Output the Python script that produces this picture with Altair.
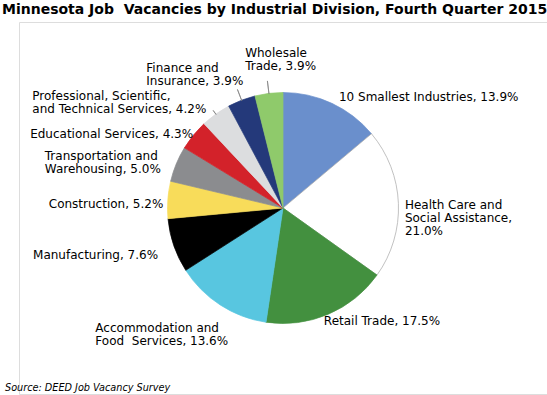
import altair as alt
import pandas as pd

# ---- data ----
names = [
    "10 Smallest Industries",
    "Health Care and\nSocial Assistance",
    "Retail Trade",
    "Accommodation and\nFood\u00a0 Services",
    "Manufacturing",
    "Construction",
    "Transportation and\nWarehousing",
    "Educational Services",
    "Professional, Scientific,\nand Technical Services",
    "Finance and\nInsurance",
    "Wholesale\nTrade",
]
shares = [13.9, 21.0, 17.5, 13.6, 7.6, 5.2, 5.0, 4.3, 4.2, 3.9, 3.9]
value_on_own_line = [False, True, False, False, False, False, False, False, False, False, False]

# ---- styles ----
fills = ["#6a8fcc", "#ffffff", "#43903f", "#58c6e0", "#000000", "#f8dc5a",
         "#8b8c8f", "#d3222a", "#dcdddf", "#24397a", "#8fca6b"]
strokes = fills.copy()
strokes[1] = "#a6a6a6"

FONT = "DejaVu Sans"
W, H = 547, 395
CX_PAGE, CY_PAGE = 283, 208
PAD_TOP = 22
PAD_LEFT = 2 * CX_PAGE - W          # 19
PLOT_W = W - PAD_LEFT
PLOT_H = 2 * (CY_PAGE - PAD_TOP)
PAD_BOTTOM = H - PAD_TOP - PLOT_H
R_PIE = 115.5
R_LABEL = 130

# per-label (align, dx, dy) offsets of the first line from the label anchor at R_LABEL
label_style = [
    ("left", 1, 7),
    ("left", -8, 2),
    ("left", -10, -7),
    ("left", -117, 11),
    ("right", -2, 5),
    ("right", 10, 5),
    ("left", -118, -2),
    ("right", 11, 8),
    ("left", -175, -6),
    ("left", -90, -19),
    ("left", -22, -25.5),
]
# leader lines: (slice index, outer radius of the line)
leaders = [(8, 120), (9, 127), (10, 128)]

labels = [
    f"{n}{',' + chr(10) if nl else ', '}{v:.1f}%"
    for n, v, nl in zip(names, shares, value_on_own_line)
]

df = pd.DataFrame({
    "category": names,
    "value": shares,
    "order": list(range(len(names))),
    "label": labels,
})

base = alt.Chart(df)

pie = base.mark_arc(outerRadius=R_PIE, strokeWidth=0.7).encode(
    theta=alt.Theta("value:Q", stack=True),
    order=alt.Order("order:Q", sort="ascending"),
    color=alt.Color("category:N", scale=alt.Scale(domain=names, range=fills), legend=None),
    stroke=alt.Stroke("category:N", scale=alt.Scale(domain=names, range=strokes), legend=None),
)

label_base = base.transform_joinaggregate(
    total="sum(value)"
).transform_window(
    cum="sum(value)", sort=[alt.SortField("order", order="ascending")], frame=[None, 0]
).transform_calculate(
    mid="(datum.cum - datum.value / 2) / datum.total",
    mid2="(datum.cum - datum.value / 2) / datum.total + 0.0001",
)

theta_mid = alt.Theta("mid:Q", scale=alt.Scale(domain=[0, 1], range=[0, 6.283185307179586]))

text_layers = []
for i, (align, dx, dy) in enumerate(label_style):
    t = label_base.transform_filter(
        alt.datum.order == i
    ).mark_text(
        radius=R_LABEL, align=align, baseline="middle", dx=dx, dy=dy,
        font=FONT, fontSize=12, lineHeight=13, lineBreak="\n", color="#000000",
    ).encode(theta=theta_mid, text="label:N")
    text_layers.append(t)

for i, r_out in leaders:
    ln = label_base.transform_filter(
        alt.datum.order == i
    ).mark_arc(
        innerRadius=R_PIE - 0.5, outerRadius=r_out, stroke="#808080", strokeWidth=0.7, fill="#808080",
    ).encode(theta=theta_mid, theta2="mid2:Q")
    text_layers.append(ln)

labels_layer = alt.layer(*text_layers)

source = alt.Chart(pd.DataFrame({"t": ["Source: DEED Job Vacancy Survey"]})).mark_text(
    align="left", baseline="alphabetic", font=FONT, fontSize=9.7, fontStyle="italic", color="#000000"
).encode(text="t:N", x=alt.value(5 - PAD_LEFT), y=alt.value(391 - PAD_TOP))

chart = alt.layer(pie, labels_layer, source).resolve_scale(
    theta="independent"
).properties(
    width=PLOT_W,
    height=PLOT_H,
    padding={"left": PAD_LEFT, "top": PAD_TOP, "right": 0, "bottom": PAD_BOTTOM},
    autosize=alt.AutoSizeParams(type="none"),
    title=alt.TitleParams(
        "Minnesota Job\u00a0 Vacancies by Industrial Division, Fourth Quarter 2015",
        anchor="start", frame="group", font=FONT, fontSize=14, fontWeight="bold",
        color="#000000", offset=5, dx=2 - PAD_LEFT, limit=700,
    ),
).configure_view(stroke=None).configure(background="#ffffff")

chart.save("out.html", embed_options={"renderer": "svg", "actions": False})
